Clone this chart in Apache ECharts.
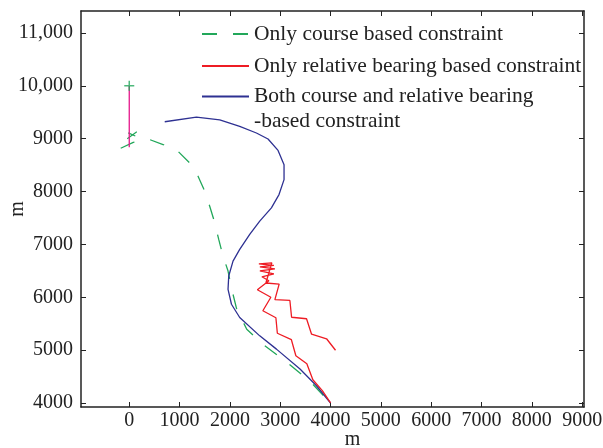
<!DOCTYPE html>
<html>
<head>
<meta charset="utf-8">
<script src="https://cdn.jsdelivr.net/npm/echarts@6/dist/echarts.min.js"></script>
<style>
  html, body { margin: 0; padding: 0; background: #fff; }
  #chart { width: 603px; height: 448px; }
</style>
</head>
<body>
<div id="chart"></div>
<script>
// track data (metres)
var courseX = [-170, 80, 400, 672, 970, 1202, 1367, 1500, 1599, 1699, 1778, 1864, 1963, 2037, 2136, 2335, 2653, 3129, 3586, 4000];
var courseY = [8820, 8930, 8985, 8890, 8760, 8542, 8289, 8006, 7723, 7409, 7094, 6779, 6496, 6151, 5774, 5396, 5113, 4774, 4415, 4000];

var bearingX = [4000, 3837, 3649, 3529, 3311, 3222, 2943, 2914, 2655, 2814, 2546, 2775, 2636, 2874, 2596, 2894, 2596, 2874, 2576, 2834, 2715, 2979, 2894, 3192, 3226, 3523, 3623, 3921, 4099];
var bearingY = [4000, 4233, 4440, 4743, 4894, 5197, 5319, 5613, 5745, 6000, 6142, 6312, 6388, 6444, 6501, 6539, 6577, 6605, 6633, 6652, 6270, 6250, 5955, 5940, 5622, 5594, 5301, 5215, 4998];

var bothX = [705, 1335, 1798, 2195, 2527, 2758, 2957, 3076, 3076, 2976, 2825, 2593, 2394, 2195, 2062, 1977, 1963, 2031, 2195, 2593, 2925, 3393, 3720, 4000];
var bothY = [9321, 9409, 9358, 9232, 9108, 8994, 8779, 8509, 8226, 7943, 7692, 7440, 7189, 6906, 6685, 6402, 6151, 5868, 5617, 5270, 5019, 4642, 4326, 4000];

var ownX = [0, 0];
var ownY = [10000, 8840];
var startPoint = [0, 10000];
var knotX = [-40, 150, '-', -20, 120];
var knotY = [9000, 9130, '-', 9110, 9050];

var xTicks = [0, 1000, 2000, 3000, 4000, 5000, 6000, 7000, 8000, 9000];
var yTicks = [4000, 5000, 6000, 7000, 8000, 9000, 10000, 11000];

var names = [
    'Only course based constraint',
    'Only relative bearing based constraint',
    'Both course and relative bearing\n-based constraint'
];

var zip = function (xs, ys) {
    return xs.map(function (x, i) {
        return x === '-' ? '-' : [x, ys[i]];
    });
};

var font = 'Liberation Serif, Times New Roman, serif';
var ink = '#222';
var colors = {
    course: '#22a75a',
    bearing: '#ee1c24',
    both: '#2e3192',
    own: '#e5178b'
};

var frameAxis = function (extra) {
    return Object.assign({
        type: 'value',
        axisLine: { show: true, onZero: false, lineStyle: { color: ink, width: 1.5 } },
        axisLabel: { show: false },
        splitLine: { show: false }
    }, extra);
};
var ticks = function (values) {
    return { show: true, inside: true, length: 5, customValues: values, lineStyle: { color: ink } };
};

var legendItem = function (name, top, lineHeight, formatter) {
    return {
        orient: 'vertical',
        left: 201,
        top: top,
        padding: 0,
        itemWidth: 47,
        itemHeight: 12,
        selectedMode: false,
        itemStyle: { color: 'rgba(0,0,0,0)', borderColor: 'rgba(0,0,0,0)', borderWidth: 0 },
        formatter: formatter,
        textStyle: { fontFamily: font, fontSize: 21.5, color: ink, lineHeight: lineHeight },
        data: [{ name: name }]
    };
};

var chart = echarts.init(document.getElementById('chart'), null, { renderer: 'canvas' });

chart.setOption({
    animation: false,
    backgroundColor: '#fff',
    grid: { left: 81, right: 19, top: 11, bottom: 41, containLabel: false, outerBoundsMode: 'none' },
    legend: [
        legendItem(names[0], 22, 24),
        legendItem(names[1], 54, 24),
        // leading blank line keeps the icon level with the first text line
        legendItem(names[2], 59, 25, function (n) { return '\n' + n; })
    ],
    xAxis: [
        frameAxis({
            position: 'bottom',
            min: -959,
            max: 9037,
            name: 'm',
            nameLocation: 'middle',
            nameGap: 23,
            nameMoveOverlap: false,
            nameTextStyle: { fontFamily: font, fontSize: 20, color: ink, padding: [0, 0, 0, 40] },
            axisTick: ticks(xTicks),
            axisLabel: {
                show: true, customValues: xTicks, margin: 4,
                fontFamily: font, fontSize: 20, color: ink,
                formatter: function (v) { return String(v); }
            }
        }),
        frameAxis({
            position: 'top',
            min: -959,
            max: 9037,
            axisTick: ticks(xTicks)
        })
    ],
    yAxis: [
        frameAxis({
            position: 'left',
            min: 3924,
            max: 11416,
            name: 'm',
            nameLocation: 'middle',
            nameGap: 53,
            nameMoveOverlap: false,
            nameTextStyle: { fontFamily: font, fontSize: 20, color: ink },
            axisTick: ticks(yTicks),
            axisLabel: {
                show: true, customValues: yTicks, margin: 8,
                fontFamily: font, fontSize: 20, color: ink,
                formatter: function (v) {
                    return v >= 10000 ? Math.floor(v / 1000) + ',' + ('00' + (v % 1000)).slice(-3) : String(v);
                }
            }
        }),
        frameAxis({
            position: 'right',
            min: 3924,
            max: 11416,
            axisTick: ticks(yTicks)
        })
    ],
    series: [
        {
            name: names[0],
            type: 'line',
            symbol: 'none',
            data: zip(courseX, courseY),
            lineStyle: { color: colors.course, width: 1.3, type: [15, 16] },
            itemStyle: { color: colors.course },
            z: 2
        },
        {
            name: 'knot',
            type: 'line',
            symbol: 'none',
            connectNulls: false,
            data: zip(knotX, knotY),
            lineStyle: { color: colors.course, width: 1.2 },
            z: 2
        },
        {
            name: names[2],
            type: 'line',
            symbol: 'none',
            data: zip(bothX, bothY),
            lineStyle: { color: colors.both, width: 1.3 },
            itemStyle: { color: colors.both },
            z: 3
        },
        {
            name: names[1],
            type: 'line',
            symbol: 'none',
            data: zip(bearingX, bearingY),
            lineStyle: { color: colors.bearing, width: 1.3 },
            itemStyle: { color: colors.bearing },
            z: 4
        },
        {
            name: 'own ship',
            type: 'line',
            symbol: 'none',
            data: zip(ownX, ownY),
            lineStyle: { color: colors.own, width: 1.3 },
            z: 5
        },
        {
            name: 'start',
            type: 'scatter',
            symbol: 'path://M0,5L10,5M5,0L5,10',
            symbolSize: 10,
            data: [startPoint],
            itemStyle: { color: 'none', borderColor: colors.course, borderWidth: 1.5 },
            z: 6
        }
    ]
});
</script>
</body>
</html>
